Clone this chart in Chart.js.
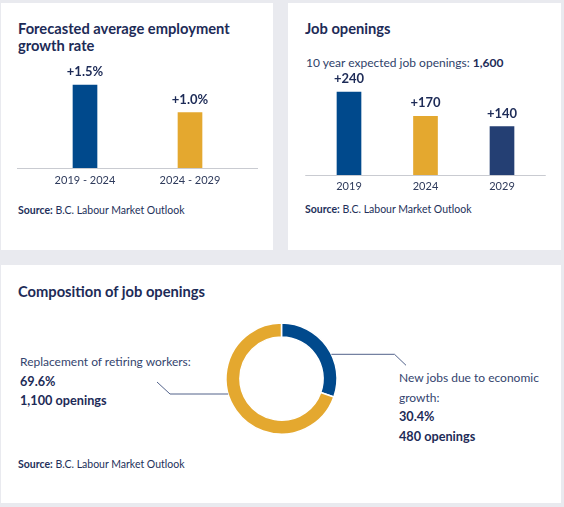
<!DOCTYPE html>
<html>
<head>
<meta charset="utf-8">
<script src="https://cdn.jsdelivr.net/npm/chart.js@4/dist/chart.umd.min.js"></script>
<style>
  html, body { margin: 0; padding: 0; }
  body { width: 564px; height: 507px; background: #e9eaef; position: relative; overflow: hidden; font-family: Lato, "Open Sans", sans-serif; }
  .panel { position: absolute; background: #ffffff; }
  .t { position: absolute; white-space: nowrap; color: #1d2b57; }
  .title { font-weight: 700; font-size: 14.7px; line-height: 17px; }
  .src { font-size: 10.5px; line-height: 12px; color: #23305a; }
  .src b { font-weight: 700; }
  .lbl { font-size: 12px; line-height: 19.5px; color: #34446e; }
  .lbl b { color: #1d2b57; font-weight: 700; font-size: 12.7px; }
  canvas { position: absolute; }
</style>
</head>
<body>
<div class="panel" style="left:1px;top:3px;width:272px;height:247px;"></div>
<div class="panel" style="left:288px;top:3px;width:273px;height:247px;"></div>
<div class="panel" style="left:1px;top:265px;width:560px;height:238px;"></div>

<div class="t title" style="left:18px;top:19.5px;">Forecasted average employment<br>growth rate</div>
<div class="t src" style="left:18px;top:203.6px;"><b>Source:</b> B.C. Labour Market Outlook</div>

<div class="t title" style="left:305px;top:19.5px;">Job openings</div>
<div class="t lbl" id="subtitle" style="left:306px;top:53px;line-height:20px;color:#2f3f6a;"></div>
<div class="t src" style="left:305px;top:203px;"><b>Source:</b> B.C. Labour Market Outlook</div>

<div class="t title" style="left:18px;top:283px;">Composition of job openings</div>
<div class="t lbl" id="leftLabel" style="left:20px;top:352px;"></div>
<div class="t lbl" id="rightLabel" style="left:399px;top:368px;"></div>
<div class="t src" style="left:18px;top:457.7px;"><b>Source:</b> B.C. Labour Market Outlook</div>

<canvas id="c1" width="272" height="160" style="left:0px;top:40px;"></canvas>
<canvas id="c2" width="279" height="167" style="left:282px;top:40px;"></canvas>
<canvas id="c3" width="559" height="238" style="left:2px;top:265px;"></canvas>

<script>
// ---- Data ----
const growthCategories = ['2019 - 2024', '2024 - 2029'];
const growthValues = [1.5, 1.0];
const growthColors = ['#00498c', '#e4a82f'];

const jobYears = ['2019', '2024', '2029'];
const jobValues = [240, 170, 140];
const jobColors = ['#00498c', '#e4a82f', '#243f73'];
const totalOpenings = 1600;

const compositionNames = [['New jobs due to economic', 'growth:'], ['Replacement of retiring workers:']];
const compositionShares = [30.4, 69.6];
const compositionOpenings = [480, 1100];
const compositionColors = ['#00498c', '#e4a82f'];

// ---- Styling helpers ----
const FONT = 'Lato, "Open Sans", sans-serif';
const TEXT_DARK = '#1d2b57';
const TICK_COLOR = '#2f3b5c';
const BASE_COLOR = '#c9cbd1';
const LEADER_COLOR = '#52628a';

function fmtNum(n) { return n.toLocaleString('en-US'); }

document.getElementById('subtitle').innerHTML = '10 year expected job openings: <b style="font-size:12px">' + fmtNum(totalOpenings) + '</b>';
document.getElementById('leftLabel').innerHTML =
  compositionNames[1].join('<br>') + '<br><b>' + compositionShares[1].toFixed(1) + '%</b><br><b>' + fmtNum(compositionOpenings[1]) + ' openings</b>';
document.getElementById('rightLabel').innerHTML =
  compositionNames[0].join('<br>') + '<br><b>' + compositionShares[0].toFixed(1) + '%</b><br><b>' + fmtNum(compositionOpenings[0]) + ' openings</b>';

// Plugin: bar value labels + extended baseline
function barDecor(formatter, extend) {
  return {
    id: 'barDecor',
    beforeDatasetsDraw(chart) {
      const ctx = chart.ctx, area = chart.chartArea;
      const y0 = chart.scales.y.getPixelForValue(0);
      ctx.save();
      ctx.strokeStyle = BASE_COLOR;
      ctx.lineWidth = 1;
      ctx.beginPath();
      ctx.moveTo(area.left - extend, Math.round(y0) + 0.5);
      ctx.lineTo(area.right + extend, Math.round(y0) + 0.5);
      ctx.stroke();
      ctx.restore();
    },
    afterDatasetsDraw(chart) {
      const ctx = chart.ctx;
      const meta = chart.getDatasetMeta(0);
      const data = chart.data.datasets[0].data;
      ctx.save();
      ctx.fillStyle = TEXT_DARK;
      ctx.font = 'bold 13px ' + FONT;
      ctx.textAlign = 'center';
      ctx.textBaseline = 'middle';
      meta.data.forEach((bar, i) => {
        ctx.fillText(formatter(data[i]), bar.x, bar.y - 13);
      });
      ctx.restore();
    }
  };
}

function barOptions(yMax, pad, tickPad) {
  return {
    responsive: false,
    animation: false,
    layout: { padding: pad },
    plugins: { legend: { display: false }, tooltip: { enabled: false } },
    scales: {
      x: {
        grid: { display: false, drawTicks: false },
        border: { display: false },
        ticks: { color: TICK_COLOR, font: { family: FONT, size: 11 }, padding: tickPad, maxRotation: 0 },
        afterFit(s) { s.height = 32; }
      },
      y: { display: false, min: 0, max: yMax }
    }
  };
}

new Chart(document.getElementById('c1'), {
  type: 'bar',
  data: { labels: growthCategories, datasets: [{ data: growthValues, backgroundColor: growthColors, barThickness: 24 }] },
  options: barOptions(2.313, { left: 32.5, right: 29.5, top: 0, bottom: 0 }, 6),
  plugins: [barDecor(v => '+' + v.toFixed(1) + '%', 15.5)]
});

new Chart(document.getElementById('c2'), {
  type: 'bar',
  data: { labels: jobYears, datasets: [{ data: jobValues, backgroundColor: jobColors, barThickness: 24 }] },
  options: barOptions(390.4, { left: 28.75, right: 20.75, top: 0, bottom: 0 }, 5),
  plugins: [barDecor(v => '+' + fmtNum(v), 5.5)]
});

// Doughnut with leader lines
const leaderPlugin = {
  id: 'leaders',
  afterDatasetsDraw(chart) {
    const arc = chart.getDatasetMeta(0).data[0];
    if (!arc) return;
    const cx = arc.x, cy = arc.y, R = arc.outerRadius;
    const ctx = chart.ctx;
    ctx.save();
    ctx.strokeStyle = LEADER_COLOR;
    ctx.lineWidth = 1;
    // right leader (first segment)
    let dy = -24.3;
    let sx = cx + Math.sqrt(R * R - dy * dy);
    ctx.beginPath();
    ctx.moveTo(sx, cy + dy);
    ctx.lineTo(cx + 113, cy + dy);
    ctx.lineTo(cx + 124.5, cy + dy + 11);
    ctx.stroke();
    // left leader (second segment)
    dy = 15.4;
    sx = cx - Math.sqrt(R * R - dy * dy);
    ctx.beginPath();
    ctx.moveTo(sx, cy + dy);
    ctx.lineTo(cx - 111.5, cy + dy);
    ctx.lineTo(cx - 124.5, cy + dy - 12);
    ctx.stroke();
    ctx.restore();
  }
};

new Chart(document.getElementById('c3'), {
  type: 'doughnut',
  data: {
    labels: compositionNames.map(n => n.join(' ')),
    datasets: [{ data: compositionShares, backgroundColor: compositionColors, borderColor: '#ffffff', borderWidth: 1.5 }]
  },
  options: {
    responsive: false,
    animation: false,
    radius: 55.5,
    cutout: '75%',
    layout: { padding: { left: 0, right: 0, top: 0, bottom: 10.8 } },
    plugins: { legend: { display: false }, tooltip: { enabled: false } }
  },
  plugins: [leaderPlugin]
});
</script>
</body>
</html>
